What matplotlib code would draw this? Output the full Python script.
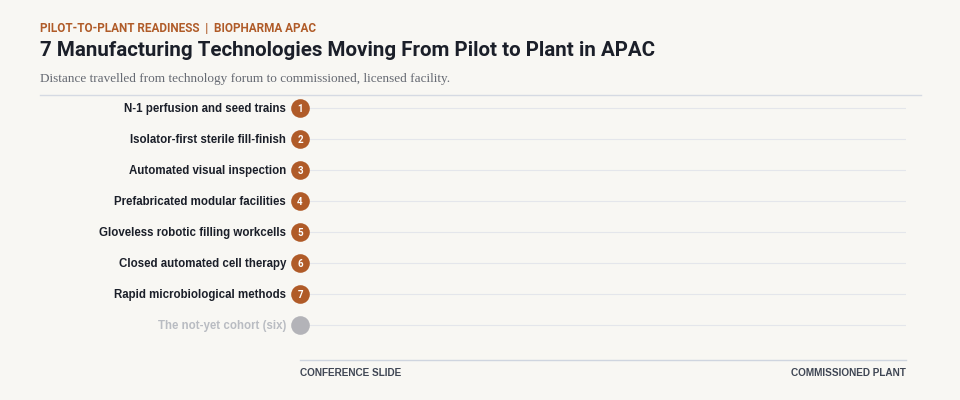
import matplotlib
matplotlib.use("Agg")
import matplotlib.pyplot as plt

# technologies, ranked, and the distance travelled (0 = conference slide, 1 = commissioned plant)
techs = [
    "N-1 perfusion and seed trains",
    "Isolator-first sterile fill-finish",
    "Automated visual inspection",
    "Prefabricated modular facilities",
    "Gloveless robotic filling workcells",
    "Closed automated cell therapy",
    "Rapid microbiological methods",
]
progress = [0, 0, 0, 0, 0, 0, 0]
cohort_label = "The not-yet cohort (six)"
cohort_progress = 0

bg = "#f8f7f3"
orange = "#b05b28"
ink = "#1b1f29"
grey = "#b3b3b8"
sans = "Roboto"
label_font = "Liberation Sans"

fig = plt.figure(figsize=(9.6, 4.0), dpi=100, facecolor=bg)

fig.text(40 / 960, 1 - 28 / 400, "PILOT-TO-PLANT READINESS  |  BIOPHARMA APAC",
         color=orange, fontsize=8.5, fontweight="bold", family=sans, va="center")
fig.text(40 / 960, 1 - 51 / 400, "7 Manufacturing Technologies Moving From Pilot to Plant in APAC",
         color=ink, fontsize=14.8, fontweight="bold", family=sans, va="center")
fig.text(40 / 960, 1 - 79 / 400, "Distance travelled from technology forum to commissioned, licensed facility.",
         color="#666a73", fontsize=9.5, family="Liberation Serif", va="center")
fig.add_artist(plt.Line2D([40 / 960, 921 / 960], [1 - 95 / 400, 1 - 95 / 400],
                          color="#d5dae3", lw=1.0))

ax = fig.add_axes([300 / 960, 40 / 400, 606 / 960, 265 / 400])
ax.set_facecolor("none")
ax.set_xlim(0, 1)
ax.set_ylim(8.129, -0.419)
for s in ["top", "right", "left"]:
    ax.spines[s].set_visible(False)
ax.spines["bottom"].set_color("#cfd5df")
ax.spines["bottom"].set_linewidth(1.0)
ax.set_xticks([])
ax.set_yticks([])

rows = list(range(len(techs) + 1))
ax.hlines(rows, 0, 1, color="#e4e6eb", lw=0.8, zorder=1)

ax.scatter(progress, rows[:-1], s=180, color=orange, zorder=3, clip_on=False, linewidths=0)
for i, (name, p) in enumerate(zip(techs, progress)):
    ax.text(p, i, str(i + 1), color="white", fontsize=7, fontweight="bold",
            ha="center", va="center_baseline", zorder=4, family=sans)
    ax.text(-0.023, i, name, color=ink, fontsize=8.3, fontweight="bold",
            ha="right", va="center_baseline", family=label_font)

ax.scatter([cohort_progress], [rows[-1]], s=180, color=grey, zorder=3, clip_on=False, linewidths=0)
ax.text(-0.023, rows[-1], cohort_label, color="#b9bcc2", fontsize=8.3, fontweight="bold",
        ha="right", va="center_baseline", family=label_font)

ax.text(0, -0.05, "CONFERENCE SLIDE", transform=ax.transAxes, color="#3f4654",
        fontsize=7.2, fontweight="bold", ha="left", va="center", family=label_font)
ax.text(1, -0.05, "COMMISSIONED PLANT", transform=ax.transAxes, color="#3f4654",
        fontsize=7.2, fontweight="bold", ha="right", va="center", family=label_font)

fig.savefig("out.png", dpi=100, facecolor=bg)
